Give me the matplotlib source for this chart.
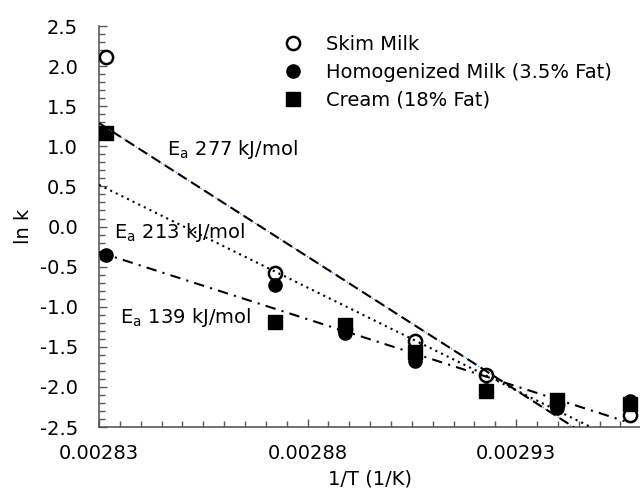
import matplotlib
matplotlib.use('Agg')
import matplotlib.pyplot as plt
import numpy as np
from matplotlib.ticker import FormatStrFormatter, MultipleLocator

plt.rcParams['font.family'] = ['DejaVu Sans']
plt.rcParams['mathtext.fontset'] = 'dejavusans'

R = 8.314e-3  # kJ/(mol K)

inv_T = [0.0028317, 0.0028723, 0.0028889, 0.0029057, 0.0029227, 0.0029399, 0.0029573]
skim = [2.12, -0.58, -1.28, -1.43, -1.85, -2.21, -2.35]
homog = [-0.355, -0.73, -1.33, -1.68, -2.04, -2.26, -2.17]
cream = [1.17, -1.19, -1.23, -1.56, -2.05, -2.16, -2.21]

# fitted lines: activation energy (kJ/mol) and ln k at 1/T = 0.00283
ea_values = [277, 213, 139]
ln_k_start = [1.29, 0.52, -0.32]
fit_labels = ['E$_\\mathregular{a}$ 277 kJ/mol', 'E$_\\mathregular{a}$ 213 kJ/mol',
              'E$_\\mathregular{a}$ 139 kJ/mol']
label_pos = [(0.0028463, 0.96), (0.0028337, -0.08), (0.002835, -1.14)]

xticks = [0.00283, 0.00288, 0.00293]

fig = plt.figure(figsize=(6.4, 4.94), dpi=100)
ax = fig.add_axes([0.1547, 0.1356, 0.8453, 0.8117])

ax.plot(inv_T, skim, 'o', ms=9.5, mfc='white', mec='black', mew=1.8,
        label='Skim Milk', zorder=3)
ax.plot(inv_T, homog, 'o', ms=9.5, mfc='black', mec='black',
        label='Homogenized Milk (3.5% Fat)', zorder=3.2)
ax.plot(inv_T, cream, 's', ms=9.5, mfc='black', mec='black',
        label='Cream (18% Fat)', zorder=3.1)

x0 = 0.00283
xfit = np.array([x0, 0.002956])
styles = [dict(dashes=(5, 2.5)), dict(dashes=(1, 2)), dict(dashes=(5, 3, 1, 3))]
for ea, y0, st in zip(ea_values, ln_k_start, styles):
    yfit = y0 - ea / R * (xfit - x0)
    if ea == 277:
        ax.plot(xfit, yfit, color='#4472C4', lw=0.8, ls=':', zorder=4)
    ax.plot(xfit, yfit, color='black', lw=1.5, zorder=4, **st)

for txt, (tx, ty) in zip(fit_labels, label_pos):
    ax.text(tx, ty, txt, fontsize=14, va='center', ha='left', zorder=5)

ax.set_xlim(0.00283, 0.0029597)
ax.set_ylim(-2.5, 2.5)
ax.set_xticks(xticks)
ax.xaxis.set_minor_locator(MultipleLocator(0.000005))
ax.yaxis.set_major_locator(MultipleLocator(0.5))
ax.yaxis.set_minor_locator(MultipleLocator(0.1))
ax.xaxis.set_major_formatter(FormatStrFormatter('%.5f'))
ax.yaxis.set_major_formatter(FormatStrFormatter('%.1f'))

for side in ['top', 'right']:
    ax.spines[side].set_visible(False)
for side in ['left', 'bottom']:
    ax.spines[side].set_color('#595959')
    ax.spines[side].set_linewidth(1.2)

ax.tick_params(which='both', direction='in', color='#595959', width=1)
ax.tick_params(which='major', length=6, labelsize=14)
ax.tick_params(which='minor', length=4)
ax.tick_params(axis='y', which='major', pad=15)
ax.tick_params(axis='x', which='major', pad=12)

ax.set_xlabel('1/T (1/K)', fontsize=14, labelpad=5)
ax.set_ylabel('ln k', fontsize=14, labelpad=5)

ax.legend(loc='upper left', bbox_to_anchor=(0.43, 0.945), bbox_transform=fig.transFigure,
          frameon=False, fontsize=14, handlelength=1.0, handletextpad=1.2,
          labelspacing=0.45, borderaxespad=0)

fig.savefig('out.png', dpi=100)
